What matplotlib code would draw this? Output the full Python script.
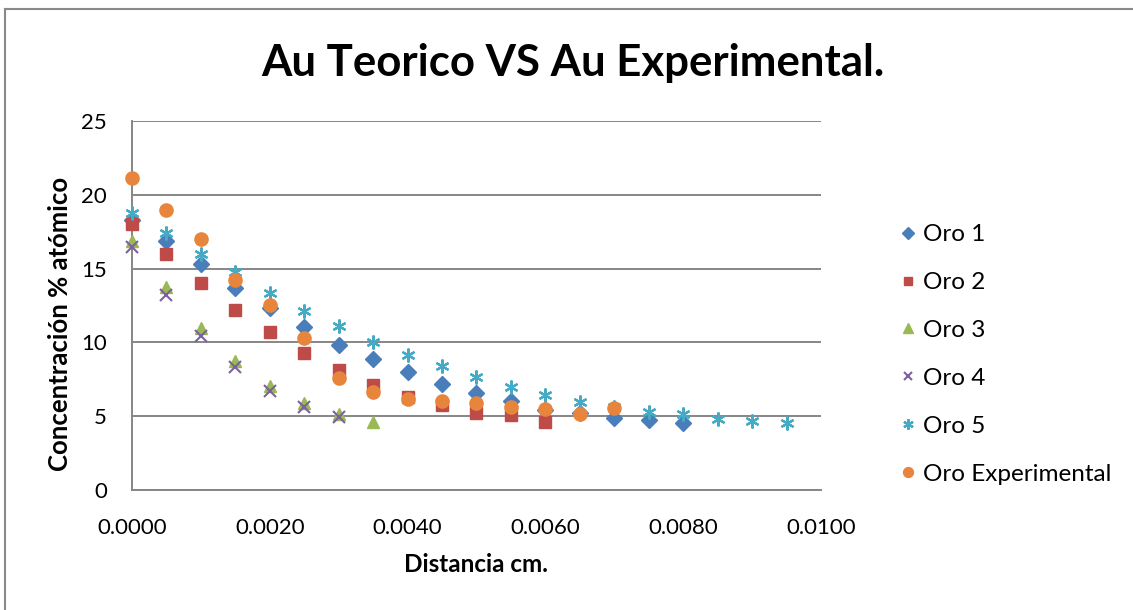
import matplotlib
matplotlib.use('Agg')
import matplotlib.pyplot as plt
from matplotlib.lines import Line2D

plt.rcParams['font.family'] = ['Lato', 'DejaVu Sans']

# distancia en cm
dist = [0.0000, 0.0005, 0.0010, 0.0015, 0.0020, 0.0025, 0.0030, 0.0035, 0.0040, 0.0045,
        0.0050, 0.0055, 0.0060, 0.0065, 0.0070, 0.0075, 0.0080, 0.0085, 0.0090, 0.0095]

oro1 = [18.3, 16.85, 15.3, 13.7, 12.35, 11.05, 9.85, 8.9, 8.0, 7.2, 6.55, 6.0, 5.45, 5.2, 4.9, 4.72, 4.55]
oro2 = [18.05, 16.0, 14.0, 12.2, 10.7, 9.3, 8.1, 7.1, 6.3, 5.75, 5.2, 5.1, 4.6]
oro3 = [16.85, 13.75, 11.0, 8.75, 7.05, 5.9, 5.15, 4.6]
oro4 = [16.45, 13.2, 10.4, 8.3, 6.7, 5.6, 4.95]
oro5 = [18.8, 17.4, 16.0, 14.8, 13.35, 12.15, 11.1, 10.05, 9.15, 8.4,
        7.65, 7.0, 6.45, 5.95, 5.6, 5.3, 5.15, 4.8, 4.67, 4.55]
oro_exp = [21.15, 18.97, 17.0, 14.25, 12.55, 10.3, 7.6, 6.65, 6.15, 6.05, 5.9, 5.62, 5.48, 5.18, 5.55]

labels = ['Oro 1', 'Oro 2', 'Oro 3', 'Oro 4', 'Oro 5', 'Oro Experimental']
colors = ['#4A7EBB', '#BE4B48', '#98B954', '#7D60A0', '#46AAC5', '#E8853D']
xticks = [0.0, 0.002, 0.004, 0.006, 0.008, 0.010]
yticks = [0, 5, 10, 15, 20, 25]

W, H = 1133, 610
fig = plt.figure(figsize=(W / 100, H / 100), dpi=100)
ax = fig.add_axes([132 / W, 1 - 490 / H, 689 / W, 369 / H])

star = (6, 2, 0)
styles = [
    dict(marker='D', ms=8),
    dict(marker='s', ms=8.5),
    dict(marker='^', ms=9),
    dict(marker='x', ms=8, mew=1.5),
    dict(marker=star, ms=10, mew=1.6),
    dict(marker='o', ms=9.5),
]
series = [oro1, oro2, oro3, oro4, oro5, oro_exp]

for i, (vals, st) in enumerate(zip(series, styles)):
    ax.plot(dist[:len(vals)], vals, linestyle='none', color=colors[i],
            mec=colors[i], mfc=colors[i], zorder=3 + i, clip_on=False, **st)

ax.set_xlim(0, 0.01)
ax.set_ylim(0, 25)
ax.set_xticks(xticks)
ax.set_xticklabels(['%.4f' % v for v in xticks])
ax.set_yticks(yticks)
ax.yaxis.grid(True, color='#868686', lw=1.4)
ax.set_axisbelow(True)
for s in ['top', 'right']:
    ax.spines[s].set_visible(False)
for s in ['left', 'bottom']:
    ax.spines[s].set_color('#868686')
    ax.spines[s].set_linewidth(1.4)
ax.tick_params(length=0, labelsize=16, colors='black')
ax.tick_params(axis='x', pad=20)
ax.tick_params(axis='y', pad=18)

fig.text(573 / W, 1 - 63 / H, 'Au Teorico VS Au Experimental.', ha='center', va='center',
         fontsize=31.5, fontweight='bold')
fig.text(476 / W, 1 - 565 / H, 'Distancia cm.', ha='center', va='center',
         fontsize=17.5, fontweight='bold')
fig.text(60 / W, 1 - 324 / H, 'Concentración % atómico', ha='center', va='center',
         rotation=90, fontsize=18.5, fontweight='bold')

handles = [Line2D([], [], linestyle='none', color=colors[i], mec=colors[i], mfc=colors[i],
                  marker=styles[i]['marker'], ms=styles[i]['ms'] * 0.75,
                  mew=styles[i].get('mew', 1.0)) for i in range(6)]
fig.legend(handles, labels, loc='upper left', bbox_to_anchor=(899 / W, 1 - 224 / H),
           frameon=False, fontsize=17.5, handlelength=0.7, handletextpad=0.3,
           labelspacing=1.11, borderpad=0, borderaxespad=0)

# borde exterior del grafico
fig.add_artist(Line2D([5 / W, 5 / W], [0, 1 - 9 / H], color='#898989', lw=1.5))
fig.add_artist(Line2D([5 / W, 1], [1 - 9 / H, 1 - 9 / H], color='#898989', lw=1.5))

fig.savefig('out.png', dpi=100)
